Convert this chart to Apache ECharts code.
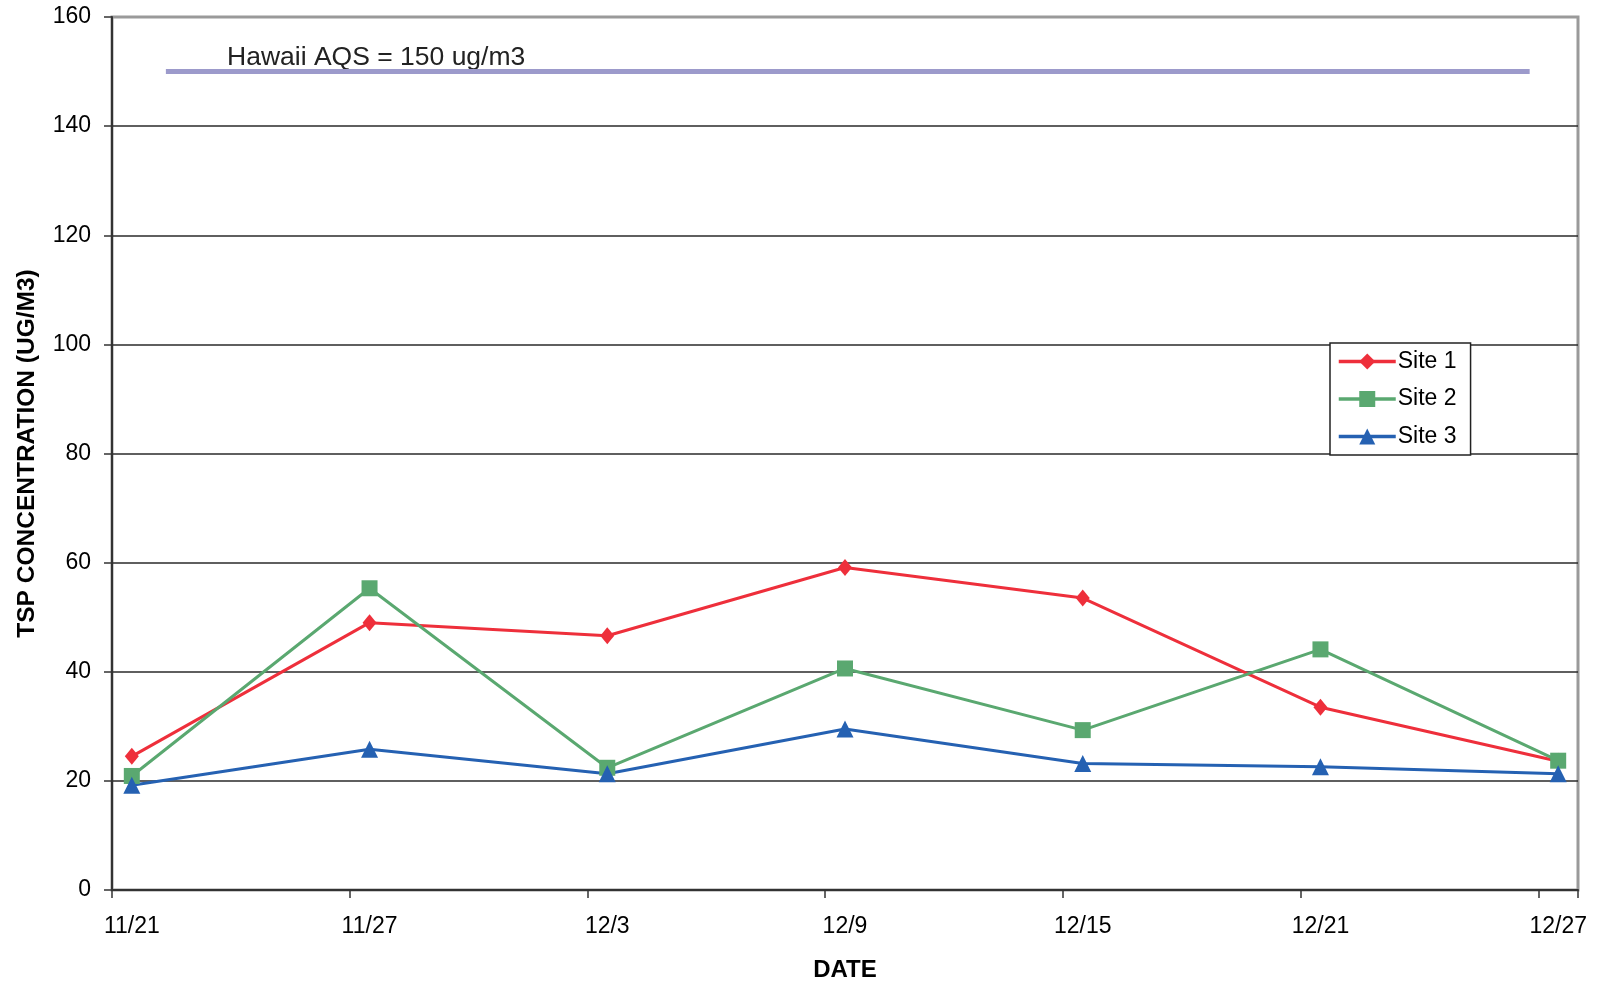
<!DOCTYPE html>
<html>
<head>
<meta charset="utf-8">
<script src="https://cdn.jsdelivr.net/npm/echarts@6/dist/echarts.min.js"></script>
<style>
  html, body { margin: 0; padding: 0; background: #fff; }
  #chart { width: 1600px; height: 982px; }
</style>
</head>
<body>
<div id="chart"></div>
<script>
// One slot per day, 11/21 through 12/27
const days = [
  '11/21','11/22','11/23','11/24','11/25','11/26','11/27','11/28','11/29','11/30',
  '12/1','12/2','12/3','12/4','12/5','12/6','12/7','12/8','12/9','12/10',
  '12/11','12/12','12/13','12/14','12/15','12/16','12/17','12/18','12/19','12/20',
  '12/21','12/22','12/23','12/24','12/25','12/26','12/27'
];
// Sampling days
const sampleDates = ['11/21', '11/27', '12/3', '12/9', '12/15', '12/21', '12/27'];
// TSP concentration (ug/m3) per site
const site1 = [24.5, 49.0, 46.6, 59.1, 53.5, 33.5, 23.6];
const site2 = [20.9, 55.3, 22.4, 40.6, 29.3, 44.1, 23.7];
const site3 = [19.2, 25.8, 21.3, 29.5, 23.2, 22.6, 21.3];
// Hawaii ambient air quality standard
const aqsValue = 150;
const yTicks = [0, 20, 40, 60, 80, 100, 120, 140, 160];

const FONT = '"Liberation Sans", Arial, sans-serif';
const chart = echarts.init(document.getElementById('chart'));

const pairs = vals => sampleDates.map((d, i) => [d, vals[i]]);

const siteSeries = (name, vals, color, symbol, size) => ({
  name: name,
  type: 'line',
  xAxisIndex: 0,
  data: pairs(vals),
  symbol: symbol,
  symbolSize: size,
  showSymbol: true,
  lineStyle: { color: color, width: 3 },
  itemStyle: { color: color },
  emphasis: { disabled: true },
  z: 3
});

// dark grid lines, the top one blends into the grey frame
const gridColors = yTicks.map((t, i) => (i === yTicks.length - 1 ? '#9a9a9a' : '#2a2a2a'));

chart.setOption({
  animation: false,
  backgroundColor: '#fff',
  textStyle: { fontFamily: FONT },
  grid: {
    left: 112, top: 17, right: 22, bottom: 92,
    outerBoundsMode: 'none',
    containLabel: false,
    show: true, borderColor: '#9a9a9a', borderWidth: 3, backgroundColor: '#fff'
  },
  legend: {
    left: 1330, top: 343,
    orient: 'vertical',
    backgroundColor: '#fff',
    borderColor: '#222', borderWidth: 1.5,
    padding: [7, 14, 7, 7],
    itemWidth: 57, itemHeight: 20, itemGap: 14.5,
    lineStyle: { width: 3.5 },
    textStyle: { fontFamily: FONT, fontSize: 23, color: '#000', padding: [0, 0, 0, -3] },
    data: ['Site 1', 'Site 2', 'Site 3']
  },
  xAxis: [{
    type: 'category',
    data: days,
    boundaryGap: true,
    name: 'DATE',
    nameLocation: 'middle',
    nameGap: 68,
    nameTextStyle: { fontFamily: FONT, fontSize: 24, fontWeight: 'bold', color: '#000' },
    axisLine: { show: true, lineStyle: { color: '#333', width: 2 } },
    axisTick: { show: true, interval: 5, alignWithLabel: false, length: 8, lineStyle: { color: '#333', width: 1.5 } },
    axisLabel: { interval: 5, margin: 25, fontFamily: FONT, fontSize: 23, color: '#000' },
    splitLine: { show: false }
  }, {
    // fractional day positions for the standard line
    type: 'value', min: 0, max: days.length, show: false
  }],
  yAxis: {
    type: 'value',
    min: yTicks[0], max: yTicks[yTicks.length - 1], interval: 20,
    name: 'TSP CONCENTRATION (UG/M3)',
    nameLocation: 'middle',
    nameGap: 72,
    nameTextStyle: { fontFamily: FONT, fontSize: 24.5, fontWeight: 'bold', color: '#000' },
    axisLine: { show: true, lineStyle: { color: '#333', width: 2 } },
    axisTick: { show: true, length: 8, lineStyle: { color: '#333', width: 1.5 } },
    axisLabel: { margin: 21, fontFamily: FONT, fontSize: 23, color: '#000' },
    splitLine: { show: true, lineStyle: { color: gridColors, width: 1.5 } }
  },
  series: [
    {
      name: 'AQS',
      type: 'line',
      xAxisIndex: 1,
      data: [[1.36, aqsValue], [35.78, aqsValue]],
      symbol: 'none',
      lineStyle: { color: '#9c9acb', width: 5, cap: 'butt' },
      silent: true,
      z: 2
    },
    siteSeries('Site 1', site1, '#ee2f3b', 'diamond', [14, 17]),
    siteSeries('Site 2', site2, '#5aa870', 'rect', 16),
    siteSeries('Site 3', site3, '#2561b2', 'triangle', 17)
  ],
  graphic: [{
    type: 'text',
    left: 227, top: 44,
    silent: true,
    style: {
      text: 'Hawaii AQS = ' + aqsValue + ' ug/m3',
      fontFamily: FONT, fontSize: 26.5, fill: '#222'
    }
  }]
});
</script>
</body>
</html>
